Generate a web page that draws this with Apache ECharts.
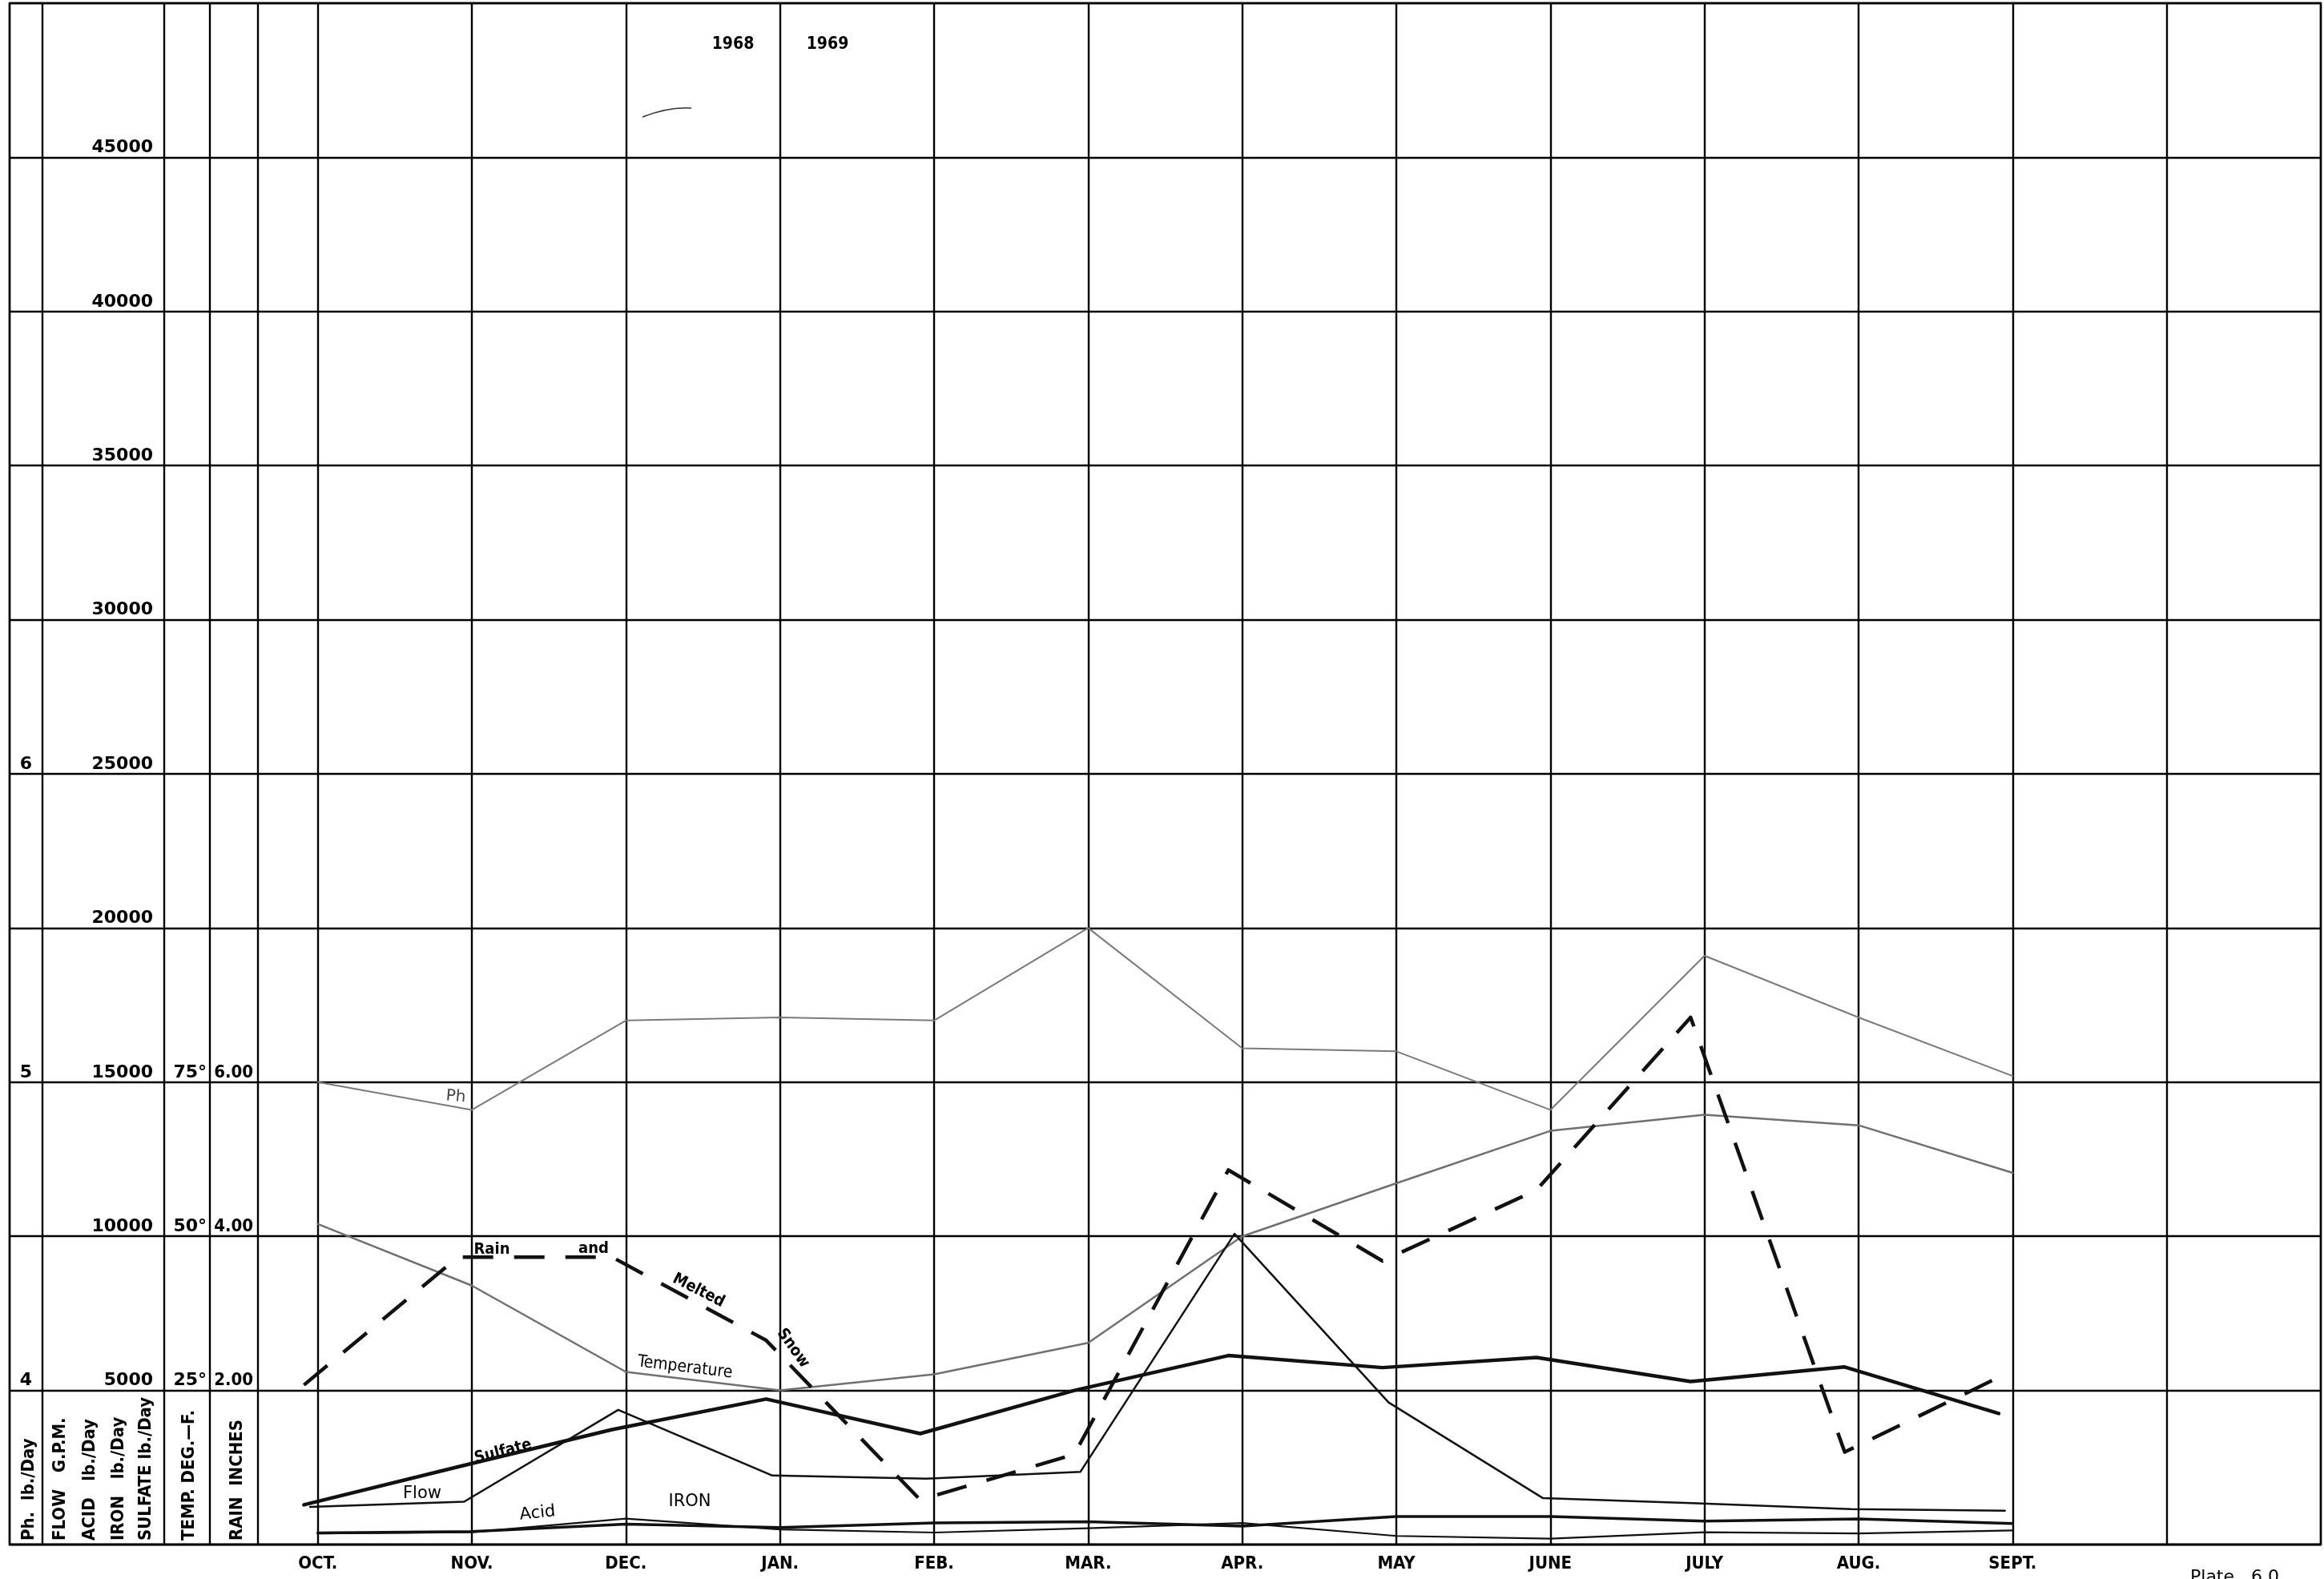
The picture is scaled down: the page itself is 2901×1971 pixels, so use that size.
<!DOCTYPE html>
<html>
<head>
<meta charset="utf-8">
<title>Plate 6.0</title>
<script src="https://cdn.jsdelivr.net/npm/echarts@6/dist/echarts.min.js"></script>
<style>
	html, body { margin: 0; padding: 0; background: #fff; }
	#chart { width: 2901px; height: 1971px; }
</style>
</head>
<body>
<div id="chart"></div>
<script>
/* 月份 (Oct 1968 - Sept 1969) */
const months = ['OCT.', 'NOV.', 'DEC.', 'JAN.', 'FEB.', 'MAR.', 'APR.', 'MAY', 'JUNE', 'JULY', 'AUG.', 'SEPT.'];
/* Ph */
const ph = [5.0, 4.91, 5.2, 5.21, 5.2, 5.5, 5.11, 5.1, 4.91, 5.41, 5.21, 5.02];
/* 温度 deg F */
const temperature = [52, 42, 28, 25, 27.6, 32.7, 50, 58.6, 67.1, 69.7, 68, 60.3];
/* rain and melted snow, inches */
const rain = [2.07, 3.73, 3.73, 2.65, 0.58, 1.17, 4.86, 3.68, 4.6, 6.84, 1.2, 2.17];
/* lb./day and G.P.M. */
const sulfate = [1290, 2520, 3730, 4720, 3600, 5000, 6130, 5740, 6070, 5290, 5760, 4250];
const flow = [1220, 1390, 4370, 2240, 2140, 2360, 10080, 4610, 1510, 1340, 1150, 1100];
const acid = [380, 420, 660, 550, 700, 740, 600, 910, 910, 760, 830, 680];
const iron = [360, 400, 840, 490, 390, 530, 700, 280, 190, 400, 360, 460];
/* tick labels of the scale columns */
const phTicks = [4, 5, 6];
const tempTicks = [25, 50, 75];
const rainTicks = [2, 4, 6];

/* hand plotted lines sit a bit left of the month lines */
const inkShift = 0.09;
const flowShift = 0.05;
/* extra rules of the scale table, in month units */
const tableRules = [-1.79, -0.7, -0.39];

const INK = '#000';
const RULE = 2.4;
const condensed = '"DejaVu Sans Condensed", "DejaVu Sans", sans-serif';
const plain = '"DejaVu Sans", sans-serif';

const chart = echarts.init(document.getElementById('chart'));

const pairs = arr => arr.map((v, i) => [i, v]);
const line = (name, data, xAxisIndex, yAxisIndex, lineStyle, extra) => Object.assign({
	type: 'line',
	name,
	data: pairs(data),
	xAxisIndex,
	yAxisIndex,
	symbol: 'none',
	showSymbol: false,
	silent: true,
	lineStyle: Object.assign({ color: '#111', cap: 'round', join: 'round' }, lineStyle)
}, extra || {});

const scaleAxis = (min, max, interval, offset, formatter, font) => ({
	type: 'value',
	min,
	max,
	interval,
	position: 'left',
	offset,
	axisLine: { show: false },
	axisTick: { show: false },
	splitLine: { show: false },
	axisLabel: Object.assign({
		formatter,
		verticalAlign: 'bottom',
		margin: 2,
		padding: [0, 0, 1, 0],
		color: INK,
		fontWeight: 'bold',
		fontSize: 22,
		fontFamily: plain
	}, font || {})
});

/* 竖排表头 */
const headers = [
	{ text: 'Ph.  lb./Day', x: 36 },
	{ text: 'FLOW   G.P.M.', x: 75 },
	{ text: 'ACID   lb./Day', x: 112 },
	{ text: 'IRON   lb./Day', x: 148 },
	{ text: 'SULFATE lb./Day', x: 182 },
	{ text: 'TEMP. DEG.\u2014F.', x: 236 },
	{ text: 'RAIN  INCHES', x: 296 }
];

/* 图内注记 */
const notes = [
	{ text: 'Ph', x: 569, y: 1369, r: -0.08, font: '20px ' + plain, fill: '#444' },
	{ text: 'Rain', x: 614, y: 1560, r: 0, font: 'bold 20px ' + condensed },
	{ text: 'and', x: 741, y: 1559, r: 0, font: 'bold 20px ' + condensed },
	{ text: 'Melted', x: 872, y: 1611, r: -0.47, font: 'bold 20px ' + condensed },
	{ text: 'Snow', x: 990, y: 1683, r: -0.95, font: 'bold 20px ' + condensed },
	{ text: 'Temperature', x: 855, y: 1707, r: -0.12, font: '21px ' + condensed },
	{ text: 'Sulfate', x: 628, y: 1812, r: 0.25, font: 'bold 20px ' + condensed },
	{ text: 'Flow', x: 527, y: 1865, r: 0, font: '21px ' + plain },
	{ text: 'Acid', x: 671, y: 1889, r: 0.1, font: '21px ' + plain },
	{ text: 'IRON', x: 861, y: 1875, r: 0, font: '21px ' + plain }
];

const graphic = [].concat(
	headers.map(h => ({
		type: 'text',
		x: h.x,
		y: 1923,
		rotation: Math.PI / 2,
		silent: true,
		style: { text: h.text, font: 'bold 22px ' + condensed, fill: INK, align: 'left', verticalAlign: 'middle' }
	})),
	notes.map(n => ({
		type: 'text',
		x: n.x,
		y: n.y,
		rotation: n.r,
		silent: true,
		style: { text: n.text, font: n.font, fill: n.fill || INK, align: 'center', verticalAlign: 'middle' }
	})),
	[
		{ type: 'text', x: 915, y: 56, silent: true, style: { text: '1968', font: 'bold 21px ' + condensed, fill: INK, align: 'center', verticalAlign: 'middle' } },
		{ type: 'text', x: 1033, y: 56, silent: true, style: { text: '1969', font: 'bold 21px ' + condensed, fill: INK, align: 'center', verticalAlign: 'middle' } },
		{ type: 'text', x: 2734, y: 1958, silent: true, style: { text: 'Plate   6.0', font: '22px ' + plain, fill: INK, align: 'left', verticalAlign: 'top' } },
		{ type: 'bezierCurve', silent: true, shape: { x1: 802, y1: 146, x2: 863, y2: 135, cpx1: 835, cpy1: 133 }, style: { stroke: '#333', lineWidth: 1.5, fill: null } }
	]
);

chart.setOption({
	animation: false,
	backgroundColor: '#fff',
	textStyle: { fontFamily: plain },
	grid: {
		left: 12,
		right: 4,
		top: 4,
		bottom: 43,
		show: true,
		borderColor: INK,
		borderWidth: RULE,
		containLabel: false,
		outerBoundsMode: 'none'
	},
	xAxis: [
		{
			type: 'value',
			min: -2,
			max: 13,
			interval: 1,
			position: 'bottom',
			axisLine: { show: true, lineStyle: { color: INK, width: RULE } },
			axisTick: { show: false },
			splitLine: { show: true, lineStyle: { color: INK, width: RULE } },
			axisLabel: {
				formatter: v => months[v] || '',
				margin: 13,
				color: INK,
				fontWeight: 'bold',
				fontSize: 22,
				fontFamily: condensed
			}
		},
		{ type: 'value', min: -2 + inkShift, max: 13 + inkShift, show: false },
		{ type: 'value', min: -2 + flowShift, max: 13 + flowShift, show: false }
	],
	yAxis: [
		Object.assign(scaleAxis(0, 50000, 5000, -181, v => (v > 0 && v < 50000 ? String(v) : '')), {
			splitLine: { show: true, lineStyle: { color: INK, width: RULE } }
		}),
		scaleAxis(3.5, 8.5, 0.5, -30, v => (phTicks.includes(v) ? String(v) : '')),
		scaleAxis(0, 250, 25, -248, v => (tempTicks.includes(v) ? v + '\u00b0' : '')),
		scaleAxis(0, 20, 2, -306, v => (rainTicks.includes(v) ? v.toFixed(2) : ''), { fontFamily: condensed })
	],
	series: [
		line('Ph', ph, 0, 1, { color: '#7a7a7a', width: 2 }, {
			markLine: {
				silent: true,
				symbol: 'none',
				label: { show: false },
				lineStyle: { color: INK, width: RULE, type: 'solid' },
				data: tableRules.map(x => ({ xAxis: x }))
			}
		}),
		line('Temperature', temperature, 0, 2, { color: '#707070', width: 2.5 }),
		line('Rain and Melted Snow', rain, 1, 3, { width: 4.5, type: [38, 26], cap: 'butt' }),
		line('Sulfate', sulfate, 1, 0, { width: 4.5 }),
		line('Flow', flow, 2, 0, { width: 2.5 }),
		line('Acid', acid, 0, 0, { width: 3.5 }),
		line('Iron', iron, 0, 0, { width: 2.2 })
	],
	graphic
});
</script>
</body>
</html>
